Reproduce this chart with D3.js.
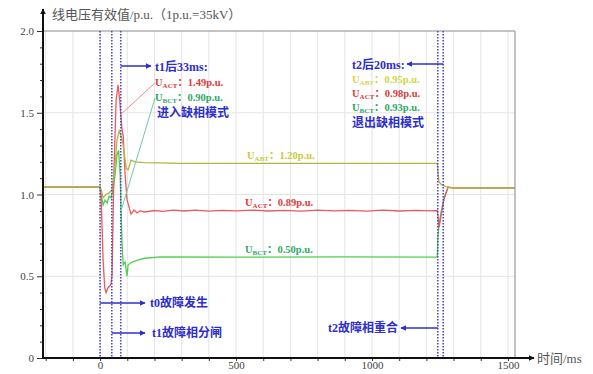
<!DOCTYPE html>
<html>
  <head>
    <meta charset="utf-8">
    <title>线电压有效值</title>
    <script src="https://d3js.org/d3.v7.min.js"></script>
    <style type="text/css">
      body {
        margin: 0;
        background: #ffffff;
      }
      text {
        font-family: "Liberation Serif", "Noto Sans CJK SC", serif;
      }
      .tick-label {
        font-size: 11px;
        fill: #444;
      }
      .blue-note {
        font-size: 12px;
        font-weight: bold;
        fill: #2e2ecc;
      }
      .val-note {
        font-size: 10.5px;
        font-weight: bold;
      }
    </style>
  </head>
  <body>
    <script>
      // Traces: [time in ms, line voltage in p.u.]
      var uAbt = [
        [-210, 1.045], [0, 1.045], [4, 1.03], [11, 0.98], [22, 1.0], [33, 1.01], [44, 1.03],
        [55, 1.18], [62, 1.33], [70, 1.39], [77, 1.36], [85, 1.30], [96, 1.16], [103, 1.15],
        [114, 1.21], [129, 1.20], [165, 1.195], [300, 1.19], [600, 1.19], [900, 1.19],
        [1240, 1.19], [1246, 1.08], [1255, 1.06], [1270, 1.05], [1290, 1.04], [1526, 1.04]
      ];
      var uAct = [
        [-210, 1.045], [0, 1.045], [4, 0.97], [11, 0.60], [17, 0.43], [22, 0.40], [29, 0.43],
        [40, 0.45], [44, 0.51], [51, 1.15], [59, 1.58], [66, 1.67], [72, 1.58], [77, 1.47],
        [81, 1.39], [85, 1.36], [92, 1.12], [99, 0.97], [107, 0.92], [114, 0.88], [125, 0.905],
        [136, 0.887], [147, 0.90], [165, 0.893], [200, 0.902], [230, 0.897], [270, 0.905],
        [310, 0.899], [350, 0.904], [400, 0.898], [450, 0.903], [500, 0.90], [560, 0.905],
        [620, 0.899], [680, 0.903], [740, 0.898], [800, 0.904], [860, 0.90], [920, 0.903],
        [980, 0.898], [1040, 0.904], [1100, 0.899], [1160, 0.903], [1220, 0.90], [1240, 0.902],
        [1243, 0.86], [1247, 0.80], [1255, 0.88], [1265, 0.97], [1280, 1.045], [1300, 1.04],
        [1526, 1.04]
      ];
      var uBct = [
        [-210, 1.045], [0, 1.045], [4, 0.997], [11, 0.935], [18, 0.966], [26, 0.948], [33, 0.99],
        [40, 0.98], [48, 1.03], [55, 1.12], [62, 1.24], [68, 1.27], [74, 1.12], [77, 0.905],
        [81, 0.69], [85, 0.57], [92, 0.587], [99, 0.50], [103, 0.57], [118, 0.587], [140, 0.60],
        [165, 0.61], [220, 0.618], [500, 0.617], [900, 0.618], [1240, 0.617], [1243, 0.75],
        [1247, 0.82], [1255, 0.90], [1265, 0.98], [1280, 1.045], [1300, 1.04], [1526, 1.04]
      ];

      // Event times (ms) and axis ticks
      var eventTimes = [0, 43, 76, 1242, 1262];
      var xTicks = [0, 500, 1000, 1500];
      var yTicks = [0, 0.5, 1.0, 1.5, 2.0];
      var yTickLabels = ["0", "0.5", "1.0", "1.5", "2.0"];

      var svgWidth = 593;
      var svgHeight = 374;

      var svg = d3.select("body")
                  .append("svg")
                  .attr("width", svgWidth)
                  .attr("height", svgHeight);

      var xScale = d3.scaleLinear()
                     .domain([-210, 1526])
                     .range([43, 515]);

      var yScale = d3.scaleLinear()
                     .domain([0, 2])
                     .range([358, 31]);

      var defs = svg.append("defs");
      makeArrow("arrowBlue", "#2e2ecc");
      makeArrow("arrowBlack", "#111");

      function makeArrow(id, color) {
          defs.append("marker")
              .attr("id", id)
              .attr("viewBox", "0 0 10 10")
              .attr("refX", 9)
              .attr("refY", 5)
              .attr("markerWidth", 6)
              .attr("markerHeight", 6)
              .attr("markerUnits", "userSpaceOnUse")
              .attr("orient", "auto")
              .append("path")
              .attr("d", "M0,0 L10,5 L0,10 z")
              .attr("fill", color);
      }

      drawGrid();
      drawTraces();
      drawEvents();
      drawAxes();
      drawNotes();

      function drawGrid() {
          var grid = svg.append("g");

          grid.selectAll(".vgrid")
              .data(d3.range(-200, 1501, 100))
              .enter()
              .append("line")
              .attr("x1", function(d) { return xScale(d); })
              .attr("x2", function(d) { return xScale(d); })
              .attr("y1", yScale(0))
              .attr("y2", yScale(2))
              .attr("stroke", "#e4e4e4")
              .attr("stroke-width", 1);

          grid.selectAll(".hgrid")
              .data([0.5, 1.0, 1.5])
              .enter()
              .append("line")
              .attr("x1", xScale(-210))
              .attr("x2", xScale(1526))
              .attr("y1", function(d) { return yScale(d); })
              .attr("y2", function(d) { return yScale(d); })
              .attr("stroke", "#e4e4e4")
              .attr("stroke-width", 1);

          // top and right frame
          grid.append("line")
              .attr("x1", xScale(-210)).attr("x2", xScale(1526))
              .attr("y1", yScale(2)).attr("y2", yScale(2))
              .attr("stroke", "#8a8a8a").attr("stroke-width", 1.2);
          grid.append("line")
              .attr("x1", xScale(1526)).attr("x2", xScale(1526))
              .attr("y1", yScale(2)).attr("y2", yScale(0))
              .attr("stroke", "#9a9a9a").attr("stroke-width", 1.2);
      }

      function drawTraces() {
          var line = d3.line()
                       .x(function(d) { return xScale(d[0]); })
                       .y(function(d) { return yScale(d[1]); });

          // olive trace last, it lies on top of the others in the picture
          var series = [
              {data: uBct, color: "#4fcf4f"},
              {data: uAct, color: "#ec5a5a"},
              {data: uAbt, color: "#b4b443"}
          ];

          svg.selectAll(".trace")
             .data(series)
             .enter()
             .append("path")
             .attr("class", "trace")
             .attr("d", function(d) { return line(d.data); })
             .attr("fill", "none")
             .attr("stroke", function(d) { return d.color; })
             .attr("stroke-width", 1.3);
      }

      function drawEvents() {
          svg.selectAll(".event")
             .data(eventTimes)
             .enter()
             .append("line")
             .attr("x1", function(d) { return xScale(d); })
             .attr("x2", function(d) { return xScale(d); })
             .attr("y1", yScale(2))
             .attr("y2", yScale(0))
             .attr("stroke", "#4a4ad0")
             .attr("stroke-width", 1.6)
             .attr("stroke-dasharray", "1.5,1.5");
      }

      function drawAxes() {
          var xAxis = d3.axisBottom(xScale)
                        .tickValues(d3.range(-200, 1501, 100))
                        .tickSize(3)
                        .tickFormat(function(d) { return xTicks.indexOf(d) >= 0 ? d : ""; });

          var gx = svg.append("g")
                      .attr("transform", "translate(0," + yScale(0) + ")")
                      .call(xAxis);
          gx.select(".domain").remove();
          gx.selectAll(".tick line").attr("stroke", "#333");
          gx.selectAll(".tick text")
            .attr("class", "tick-label")
            .attr("y", 3);

          var yAxis = d3.axisLeft(yScale)
                        .tickValues(d3.range(0, 2.01, 0.1))
                        .tickSize(3)
                        .tickFormat(function(d) {
                            var i = yTicks.findIndex(function(v) { return Math.abs(v - d) < 1e-6; });
                            return i >= 0 ? yTickLabels[i] : "";
                        });

          var gy = svg.append("g")
                      .attr("transform", "translate(" + xScale(-210) + ",0)")
                      .call(yAxis);
          gy.select(".domain").remove();
          gy.selectAll(".tick line").attr("stroke", "#333");
          gy.selectAll(".tick")
            .filter(function(d) { return yTicks.some(function(v) { return Math.abs(v - d) < 1e-6; }); })
            .select("line")
            .attr("x2", -6);
          gy.selectAll(".tick text")
            .attr("class", "tick-label")
            .attr("x", -9);

          // axis lines with arrows
          svg.append("line")
             .attr("x1", xScale(-210)).attr("x2", xScale(-210))
             .attr("y1", yScale(0) + 1).attr("y2", 9)
             .attr("stroke", "#111").attr("stroke-width", 2)
             .attr("marker-end", "url(#arrowBlack)");
          svg.append("line")
             .attr("x1", xScale(-210) - 1).attr("x2", 534)
             .attr("y1", yScale(0)).attr("y2", yScale(0))
             .attr("stroke", "#111").attr("stroke-width", 2)
             .attr("marker-end", "url(#arrowBlack)");

          svg.append("text")
             .attr("x", 537)
             .attr("y", yScale(0) + 5)
             .attr("fill", "#555")
             .style("font-size", "13px")
             .text("时间/ms");

          svg.append("text")
             .attr("x", 52)
             .attr("y", 19)
             .attr("fill", "#555")
             .style("font-size", "13px")
             .text("线电压有效值/p.u.（1p.u.=35kV）");
      }

      function valueNote(x, y, name, value, color) {
          var t = svg.append("text")
                     .attr("class", "val-note")
                     .attr("x", x)
                     .attr("y", y)
                     .attr("fill", color);
          t.append("tspan").text("U");
          t.append("tspan").attr("dy", 2).style("font-size", "7px").text(name);
          t.append("tspan").attr("dy", -2).text("：" + value);
      }

      function arrow(x1, x2, y) {
          svg.append("line")
             .attr("x1", x1).attr("x2", x2)
             .attr("y1", y).attr("y2", y)
             .attr("stroke", "#2e2ecc")
             .attr("stroke-width", 1.5)
             .attr("marker-end", "url(#arrowBlue)");
      }

      function drawNotes() {
          var red = "#e23a3a";
          var green = "#2fa866";
          var yellow = "#c9c93a";

          // leader lines from the t1+33ms values
          svg.append("line")
             .attr("x1", xScale(76)).attr("y1", yScale(1.49))
             .attr("x2", 155).attr("y2", 83)
             .attr("stroke", "#f08a8a").attr("stroke-width", 1);
          svg.append("line")
             .attr("x1", xScale(77)).attr("y1", yScale(0.90))
             .attr("x2", 155).attr("y2", 98)
             .attr("stroke", "#6cc8b4").attr("stroke-width", 1);

          arrow(xScale(76), 151, 66);
          svg.append("text").attr("class", "blue-note").attr("x", 155).attr("y", 71).text("t1后33ms:");
          valueNote(155, 86, "ACT", "1.49p.u.", red);
          valueNote(155, 101, "BCT", "0.90p.u.", green);
          svg.append("text").attr("class", "blue-note").attr("x", 157).attr("y", 117).text("进入缺相模式");

          arrow(xScale(1262), 407, 64);
          svg.append("text").attr("class", "blue-note").attr("x", 352).attr("y", 69).text("t2后20ms:");
          valueNote(352, 83, "ABT", "0.95p.u.", "#d4d44a");
          valueNote(352, 97, "ACT", "0.98p.u.", red);
          valueNote(352, 111, "BCT", "0.93p.u.", green);
          svg.append("text").attr("class", "blue-note").attr("x", 352).attr("y", 127).text("退出缺相模式");

          valueNote(247, 159, "ABT", "1.20p.u.", yellow);
          valueNote(245, 206, "ACT", "0.89p.u.", red);
          valueNote(245, 253, "BCT", "0.50p.u.", green);

          arrow(xScale(0), 145, 303);
          svg.append("text").attr("class", "blue-note").attr("x", 150).attr("y", 307).text("t0故障发生");
          arrow(xScale(43), 145, 333);
          svg.append("text").attr("class", "blue-note").attr("x", 152).attr("y", 337).text("t1故障相分闸");
          arrow(xScale(1242), 401, 328);
          svg.append("text").attr("class", "blue-note").attr("x", 328).attr("y", 332).text("t2故障相重合");
      }
    </script>
  </body>
</html>
